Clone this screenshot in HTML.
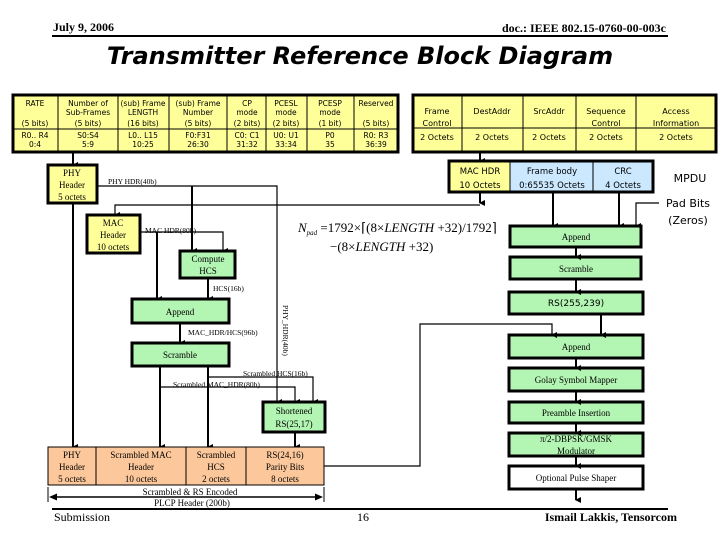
<!DOCTYPE html>
<html><head><meta charset="utf-8"><style>
html,body{margin:0;padding:0;background:#fff;}
svg{display:block}
.s{font-family:"DejaVu Sans","Liberation Sans",sans-serif;font-size:7.5px;fill:#000}
.r{font-family:"Liberation Serif",serif;font-size:9px;fill:#000}
.rs{font-family:"Liberation Serif",serif;font-size:7.5px;fill:#000}
.b{stroke:#000;stroke-width:3}
.l{stroke:#000;stroke-width:1.2;fill:none}
.t{stroke:#000;stroke-width:2;fill:none}
</style></head><body>
<svg width="720" height="540" viewBox="0 0 720 540" xmlns="http://www.w3.org/2000/svg">
<defs>
<marker id="a" markerWidth="6" markerHeight="6" refX="3" refY="5" orient="auto" markerUnits="userSpaceOnUse" viewBox="0 0 6 6"><path d="M0,0 L6,0 L3,6 z" fill="#000"/></marker>
</defs>
<!-- header -->
<text x="53" y="31" font-family="Liberation Serif,serif" font-weight="bold" font-size="12">July 9, 2006</text>
<text x="666" y="32" text-anchor="end" font-family="Liberation Serif,serif" font-weight="bold" font-size="12">doc.: IEEE 802.15-0760-00-003c</text>
<line x1="52" y1="36" x2="668" y2="36" stroke="#000" stroke-width="2"/>
<text x="360" y="64" text-anchor="middle" font-family="DejaVu Sans,Liberation Sans,sans-serif" font-weight="bold" font-style="italic" font-size="24">Transmitter Reference Block Diagram</text>

<!-- top left table -->
<rect x="13" y="95" width="385" height="57" fill="#ffff99" class="b"/>
<line x1="13" y1="129" x2="398" y2="129" stroke="#000" stroke-width="1"/>
<g stroke="#000" stroke-width="1">
<line x1="58" y1="95" x2="58" y2="152"/><line x1="118" y1="95" x2="118" y2="152"/><line x1="169" y1="95" x2="169" y2="152"/><line x1="227" y1="95" x2="227" y2="152"/><line x1="266" y1="95" x2="266" y2="152"/><line x1="307" y1="95" x2="307" y2="152"/><line x1="354" y1="95" x2="354" y2="152"/>
</g>
<g class="s" text-anchor="middle">
<text x="35" y="106">RATE</text><text x="35" y="126">(5 bits)</text>
<text x="88" y="106">Number of</text><text x="88" y="115">Sub-Frames</text><text x="88" y="126">(5 bits)</text>
<text x="143" y="106">(sub) Frame</text><text x="143" y="115">LENGTH</text><text x="143" y="126">(16 bits)</text>
<text x="198" y="106">(sub) Frame</text><text x="198" y="115">Number</text><text x="198" y="126">(5 bits)</text>
<text x="247" y="106">CP</text><text x="247" y="115">mode</text><text x="247" y="126">(2 bits)</text>
<text x="286" y="106">PCESL</text><text x="286" y="115">mode</text><text x="286" y="126">(2 bits)</text>
<text x="330" y="106">PCESP</text><text x="330" y="115">mode</text><text x="330" y="126">(1 bit)</text>
<text x="376" y="106">Reserved</text><text x="376" y="126">(5 bits)</text>
<text x="35" y="138">R0.. R4</text><text x="35" y="147">0:4</text>
<text x="88" y="138">S0:S4</text><text x="88" y="147">5:9</text>
<text x="143" y="138">L0.. L15</text><text x="143" y="147">10:25</text>
<text x="198" y="138">F0:F31</text><text x="198" y="147">26:30</text>
<text x="247" y="138">C0: C1</text><text x="247" y="147">31:32</text>
<text x="286" y="138">U0: U1</text><text x="286" y="147">33:34</text>
<text x="330" y="138">P0</text><text x="330" y="147">35</text>
<text x="376" y="138">R0: R3</text><text x="376" y="147">36:39</text>
</g>

<!-- top right table -->
<rect x="413" y="95" width="303" height="57" fill="#ffff99" class="b"/>
<line x1="413" y1="128" x2="716" y2="128" stroke="#000" stroke-width="1"/>
<g stroke="#000" stroke-width="1"><line x1="462" y1="95" x2="462" y2="152"/><line x1="523" y1="95" x2="523" y2="152"/><line x1="576" y1="95" x2="576" y2="152"/><line x1="636" y1="95" x2="636" y2="152"/></g>
<g class="s" text-anchor="middle" style="font-size:8px">
<text x="437" y="114">Frame</text><text x="437" y="126">Control</text>
<text x="492" y="114">DestAddr</text>
<text x="549" y="114">SrcAddr</text>
<text x="606" y="114">Sequence</text><text x="606" y="126">Control</text>
<text x="676" y="114">Access</text><text x="676" y="126">Information</text>
<text x="437" y="140">2 Octets</text><text x="492" y="140">2 Octets</text><text x="549" y="140">2 Octets</text><text x="606" y="140">2 Octets</text><text x="676" y="140">2 Octets</text>
</g>
<line x1="480" y1="152" x2="480" y2="161" class="t" marker-end="url(#a)"/>

<!-- MPDU -->
<rect x="449" y="161" width="204" height="31" fill="#cce8ff" class="b"/>
<rect x="450.5" y="162.5" width="59.5" height="28" fill="#ffff99"/>
<g stroke="#000" stroke-width="1"><line x1="510" y1="161" x2="510" y2="192"/><line x1="593" y1="161" x2="593" y2="192"/></g>
<g class="s" text-anchor="middle" style="font-size:8.5px">
<text x="480" y="174">MAC HDR</text><text x="480" y="188">10 Octets</text>
<text x="552" y="174">Frame body</text><text x="552" y="188">0:65535 Octets</text>
<text x="623" y="174">CRC</text><text x="623" y="188">4 Octets</text>
</g>
<text x="690" y="182" text-anchor="middle" class="s" style="font-size:11px">MPDU</text>
<text x="688" y="207" text-anchor="middle" class="s" style="font-size:11px">Pad Bits</text>
<text x="688" y="224" text-anchor="middle" class="s" style="font-size:11px">(Zeros)</text>
<path d="M659,203 H636 V226" class="t" style="stroke-width:1.2" marker-end="url(#a)"/>
<line x1="553" y1="192" x2="553" y2="226" class="t" marker-end="url(#a)"/>
<line x1="619" y1="192" x2="619" y2="226" class="t" marker-end="url(#a)"/>
<line x1="480" y1="192" x2="480" y2="203" class="t" marker-end="url(#a)"/>
<path d="M480,205 H115 V215" class="l" marker-end="url(#a)"/>

<!-- formula -->
<text x="298" y="232" font-family="Liberation Serif,serif" font-size="13"><tspan font-style="italic">N</tspan><tspan font-size="7" dy="3" font-style="italic">pad</tspan><tspan dy="-3"> =1792×⌈(8×</tspan><tspan font-style="italic">LENGTH</tspan><tspan> +32)/1792⌉</tspan></text>
<text x="330" y="251" font-family="Liberation Serif,serif" font-size="13">−(8×<tspan font-style="italic">LENGTH</tspan> +32)</text>

<!-- right chain -->
<g class="b" fill="#b3f5b3">
<rect x="510" y="226" width="131" height="21"/>
<rect x="510" y="257" width="131" height="22"/>
<rect x="509" y="292" width="134" height="22"/>
<rect x="509" y="335" width="134" height="23"/>
<rect x="509" y="368" width="134" height="23"/>
<rect x="509" y="402" width="134" height="21"/>
<rect x="509" y="433" width="134" height="23"/>
<rect x="509" y="466" width="134" height="23" fill="#fff"/>
</g>
<g class="r" text-anchor="middle">
<text x="576" y="240">Append</text>
<text x="576" y="272">Scramble</text>
<text x="576" y="350">Append</text>
<text x="576" y="383">Golay Symbol Mapper</text>
<text x="576" y="416">Preamble Insertion</text>
<text x="576" y="442">π/2-DBPSK/GMSK</text>
<text x="576" y="454">Modulator</text>
<text x="576" y="481">Optional Pulse Shaper</text>
</g>
<text x="576" y="306" text-anchor="middle" class="s" style="font-size:9px">RS(255,239)</text>
<g class="t">
<line x1="576" y1="247" x2="576" y2="257" marker-end="url(#a)"/>
<line x1="576" y1="279" x2="576" y2="292" marker-end="url(#a)"/>
<line x1="601" y1="314" x2="601" y2="335" marker-end="url(#a)"/>
<line x1="576" y1="358" x2="576" y2="368" marker-end="url(#a)"/>
<line x1="576" y1="391" x2="576" y2="402" marker-end="url(#a)"/>
<line x1="576" y1="423" x2="576" y2="433" marker-end="url(#a)"/>
<line x1="576" y1="456" x2="576" y2="466" marker-end="url(#a)"/>
<line x1="576" y1="489" x2="576" y2="500" marker-end="url(#a)"/>
</g>
<path d="M324,466 H420 V324 H552 V335" class="l" marker-end="url(#a)"/>

<!-- left side -->
<line x1="73" y1="152" x2="73" y2="165" class="t" marker-end="url(#a)"/>
<rect x="48" y="165" width="49" height="38" fill="#ffff99" class="b"/>
<g class="r" text-anchor="middle"><text x="72" y="176">PHY</text><text x="72" y="188">Header</text><text x="72" y="200">5 octets</text></g>
<rect x="87" y="215" width="53" height="38" fill="#ffff99" class="b"/>
<g class="r" text-anchor="middle"><text x="113" y="226">MAC</text><text x="113" y="238">Header</text><text x="113" y="250">10 octets</text></g>
<path d="M97,186 H277 V402" class="l" marker-end="url(#a)"/>
<text x="108" y="184" class="rs">PHY HDR(40b)</text>
<line x1="192" y1="186" x2="192" y2="251" class="t" marker-end="url(#a)"/>
<path d="M140,232 H223 V251" class="l" marker-end="url(#a)"/>
<text x="145" y="233" class="rs">MAC HDR(80b)</text>
<line x1="157" y1="232" x2="157" y2="299" class="t" marker-end="url(#a)"/>
<rect x="180" y="251" width="55" height="27" fill="#b3f5b3" class="b"/>
<g class="r" text-anchor="middle"><text x="208" y="262">Compute</text><text x="208" y="274">HCS</text></g>
<line x1="208" y1="278" x2="208" y2="299" class="t" marker-end="url(#a)"/>
<text x="213" y="291" class="rs">HCS(16b)</text>
<rect x="132" y="299" width="97" height="24" fill="#b3f5b3" class="b"/>
<text x="180" y="315" text-anchor="middle" class="r">Append</text>
<line x1="180" y1="323" x2="180" y2="343" class="t" marker-end="url(#a)"/>
<text x="188" y="335" class="rs">MAC_HDR/HCS(96b)</text>
<rect x="132" y="343" width="97" height="23" fill="#b3f5b3" class="b"/>
<text x="180" y="358" text-anchor="middle" class="r">Scramble</text>
<line x1="160" y1="366" x2="160" y2="447" class="t" marker-end="url(#a)"/>
<line x1="208" y1="366" x2="208" y2="447" class="t" marker-end="url(#a)"/>
<path d="M208,377 H313 V402" class="l" marker-end="url(#a)"/>
<path d="M160,387 H295 V402" class="l" marker-end="url(#a)"/>
<text x="243" y="376" class="rs">Scrambled HCS(16b)</text>
<text x="173" y="387" class="rs">Scrambled MAC_HDR(80b)</text>
<text transform="translate(283,305) rotate(90)" class="rs">PHY_HDR(40b)</text>
<line x1="73" y1="203" x2="73" y2="447" class="t" marker-end="url(#a)"/>
<rect x="263" y="402" width="62" height="30" fill="#b3f5b3" class="b"/>
<g class="r" text-anchor="middle"><text x="294" y="414">Shortened</text><text x="294" y="427">RS(25,17)</text></g>
<line x1="295" y1="432" x2="295" y2="447" class="t" marker-end="url(#a)"/>

<!-- bottom table -->
<rect x="48" y="447" width="276" height="38" fill="#fcc89b" stroke="#000" stroke-width="1"/>
<g stroke="#000" stroke-width="1"><line x1="96" y1="447" x2="96" y2="485"/><line x1="186" y1="447" x2="186" y2="485"/><line x1="246" y1="447" x2="246" y2="485"/></g>
<g class="r" text-anchor="middle">
<text x="72" y="458">PHY</text><text x="72" y="470">Header</text><text x="72" y="482">5 octets</text>
<text x="141" y="458">Scrambled MAC</text><text x="141" y="470">Header</text><text x="141" y="482">10 octets</text>
<text x="216" y="458">Scrambled</text><text x="216" y="470">HCS</text><text x="216" y="482">2 octets</text>
<text x="285" y="458">RS(24,16)</text><text x="285" y="470">Parity Bits</text><text x="285" y="482">8 octets</text>
</g>
<line x1="48" y1="487" x2="48" y2="502" stroke="#000"/><line x1="324" y1="487" x2="324" y2="502" stroke="#000"/>
<line x1="56" y1="497" x2="316" y2="497" stroke="#000" stroke-width="1.5"/>
<path d="M49,497 l8,-3.5 v7 z M323,497 l-8,-3.5 v7 z" fill="#000"/>
<text x="190" y="495" text-anchor="middle" class="r">Scrambled &amp; RS Encoded</text>
<text x="192" y="506" text-anchor="middle" class="r">PLCP Header (200b)</text>

<!-- footer -->
<line x1="52" y1="509" x2="668" y2="509" stroke="#000" stroke-width="2"/>
<text x="54" y="521" font-family="Liberation Serif,serif" font-size="12">Submission</text>
<text x="357" y="521" font-family="Liberation Serif,serif" font-size="12">16</text>
<text x="677" y="521" text-anchor="end" font-family="Liberation Serif,serif" font-weight="bold" font-size="12">Ismail Lakkis, Tensorcom</text>
</svg>
</body></html>
